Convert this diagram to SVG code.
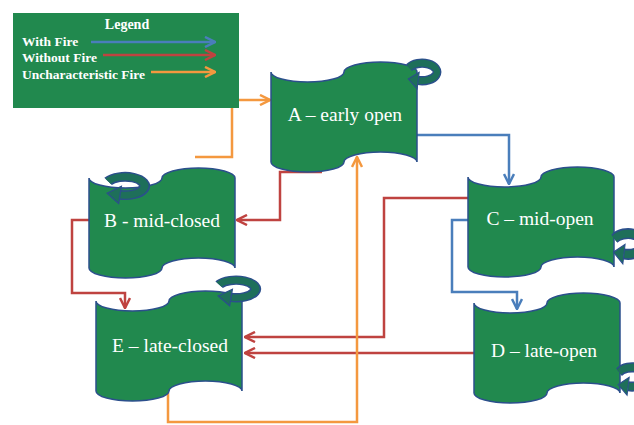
<svg xmlns="http://www.w3.org/2000/svg" xmlns:xlink="http://www.w3.org/1999/xlink" width="634" height="425" viewBox="0 0 634 425">
<style>
.bg{fill:#ffffff}
.tape{fill:#21894e;stroke:#2b4f8c;stroke-width:1.5}
.legendbox{fill:#21894e}
.lbl{font-family:"Liberation Serif","Times New Roman",serif;font-size:19.5px;fill:#ffffff;text-anchor:middle}
.leg{font-family:"Liberation Serif","Times New Roman",serif;font-size:13.5px;font-weight:bold;fill:#ffffff}
.legtitle{font-size:14px;text-anchor:middle}
.c{fill:none;stroke-width:2.5;stroke-linejoin:miter}
.blue{stroke:#4a7ebb}
.red{stroke:#bf4340}
.orange{stroke:#f4983f}
.bandout{fill:none;stroke:#2b4f8c;stroke-width:8.5}
.bandin{fill:none;stroke:#1e6f5a;stroke-width:6}
.head{fill:#1e6f5a;stroke:#2b4f8c;stroke-width:1}
</style>
<defs>
<path id="tape" d="M0,10 A36.5,10 0 0 0 73,10 A36.5,10 0 0 1 146,10 L146,100 A36.5,10 0 0 0 73,100 A36.5,10 0 0 1 0,100 Z"/>
<g id="loop">
<path class="bandout" d="M-13,-4 A15,8 0 1 1 -3.9,7.7"/>
<path class="bandin" d="M-13,-4 A15,8 0 1 1 -3.9,7.7"/>
<polygon class="head" points="-13.8,6.3 -2.8,0.3 -4.9,15.2"/>
</g>
<marker id="mBlue" viewBox="0 0 12 12" refX="11" refY="6" markerWidth="12" markerHeight="12" markerUnits="userSpaceOnUse" orient="auto">
<path d="M1,1 L11,6 L1,11" fill="none" stroke="#4a7ebb" stroke-width="2.5"/>
</marker>
<marker id="mRed" viewBox="0 0 12 12" refX="11" refY="6" markerWidth="12" markerHeight="12" markerUnits="userSpaceOnUse" orient="auto">
<path d="M1,1 L11,6 L1,11" fill="none" stroke="#bf4340" stroke-width="2.5"/>
</marker>
<marker id="mOrange" viewBox="0 0 12 12" refX="11" refY="6" markerWidth="12" markerHeight="12" markerUnits="userSpaceOnUse" orient="auto">
<path d="M1,1 L11,6 L1,11" fill="none" stroke="#f4983f" stroke-width="2.5"/>
</marker>
</defs>
<rect class="bg" x="0" y="0" width="634" height="425"/>

<g id="connectors">
<path class="c orange" d="M239,100 L270,100" marker-end="url(#mOrange)"/>
<path class="c orange" d="M232,108 L232,157 L195,157"/>
<path class="c red" d="M322,172 L280,172 L280,220 L237,220" marker-end="url(#mRed)"/>
<path class="c blue" d="M417,135 L509,135 L509,184" marker-end="url(#mBlue)"/>
<path class="c red" d="M468,198 L384,198 L384,337 L245,337" marker-end="url(#mRed)"/>
<path class="c red" d="M474,353 L245,353" marker-end="url(#mRed)"/>
<path class="c blue" d="M468,220 L452,220 L452,292 L517,292 L517,309" marker-end="url(#mBlue)"/>
<path class="c red" d="M89,220 L72,220 L72,293 L125,293 L125,308" marker-end="url(#mRed)"/>
<path class="c orange" d="M168,393 L168,422 L357,422 L357,157" marker-end="url(#mOrange)"/>
</g>

<g id="legend">
<rect class="legendbox" x="13" y="13" width="226" height="95"/>
<text class="leg legtitle" x="127" y="29">Legend</text>
<text class="leg" x="22" y="46">With Fire</text>
<text class="leg" x="22" y="62">Without Fire</text>
<text class="leg" x="22" y="79">Uncharacteristic Fire</text>
<path class="c blue" d="M91,42 L215,42" marker-end="url(#mBlue)"/>
<path class="c red" d="M103,55 L215,55" marker-end="url(#mRed)"/>
<path class="c orange" d="M151,72 L215,72" marker-end="url(#mOrange)"/>
</g>

<g id="A">
<use xlink:href="#tape" href="#tape" class="tape" transform="translate(271,62)"/>
<use xlink:href="#loop" href="#loop" transform="translate(422,72) scale(1,1.1)"/>
<text class="lbl" x="345" y="121">A – early open</text>
</g>
<g id="B">
<use xlink:href="#tape" href="#tape" class="tape" transform="translate(89,168)"/>
<use xlink:href="#loop" href="#loop" transform="translate(125,186) scale(1.3,1.15)"/>
<text class="lbl" x="162" y="227">B - mid-closed</text>
</g>
<g id="C">
<use xlink:href="#tape" href="#tape" class="tape" transform="translate(468,167)"/>
<use xlink:href="#loop" href="#loop" transform="translate(628,244) scale(1.05,1.3)"/>
<text class="lbl" x="540" y="225">C – mid-open</text>
</g>
<g id="D">
<use xlink:href="#tape" href="#tape" class="tape" transform="translate(474,293)"/>
<use xlink:href="#loop" href="#loop" transform="translate(632,377) scale(1,1.2)"/>
<text class="lbl" x="544" y="357">D – late-open</text>
</g>
<g id="E">
<use xlink:href="#tape" href="#tape" class="tape" transform="translate(96,291)"/>
<use xlink:href="#loop" href="#loop" transform="translate(236,289) scale(1.3,1.1)"/>
<text class="lbl" x="170" y="352">E – late-closed</text>
</g>
</svg>
